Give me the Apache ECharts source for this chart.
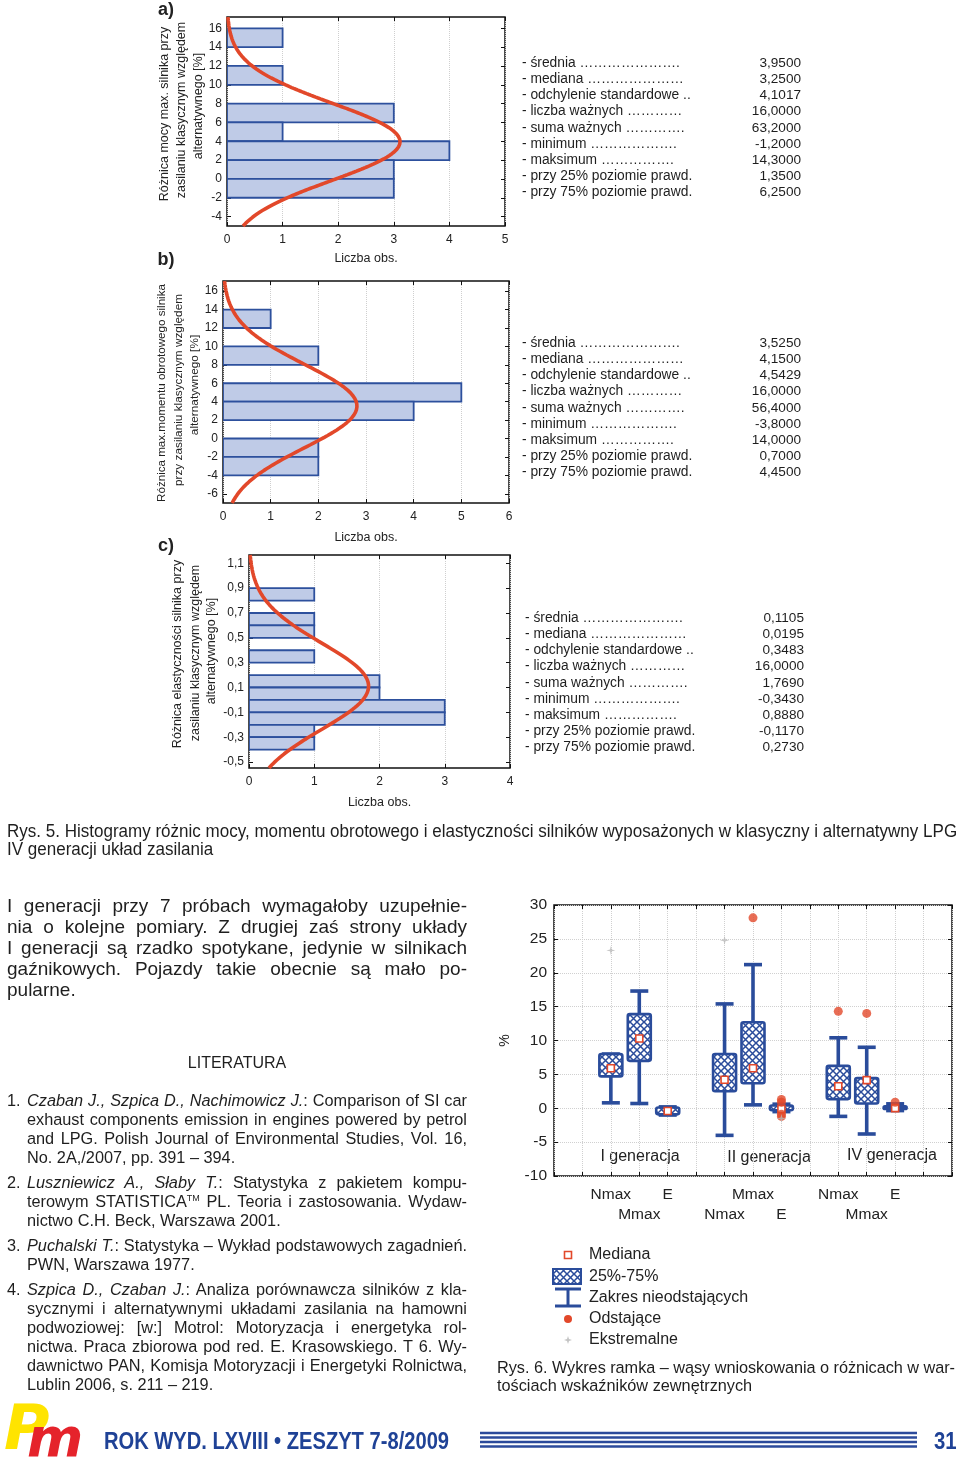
<!DOCTYPE html>
<html><head><meta charset="utf-8">
<script src="https://cdn.jsdelivr.net/npm/echarts@6/dist/echarts.min.js"></script>
<style>
html,body{margin:0;padding:0;background:#fff;}
#page{position:relative;width:960px;height:1461px;overflow:hidden;font-family:"Liberation Sans",Arial,sans-serif;color:#1e1e1e;}
#chart{position:absolute;left:0;top:0;width:960px;height:1461px;}
.t{position:absolute;white-space:nowrap;}
.j{white-space:normal;text-align:justify;text-align-last:justify;}
</style></head><body><div id="page"><div id="chart"></div></div>
<script>
// ---------------- DATA ----------------
const histA_low = [14, 10, 6, 4, 2, 0, -2];
const histA_count = [1, 1, 3, 1, 4, 3, 3];
const histB_low = [12, 8, 4, 2, -2, -4];
const histB_count = [1, 2, 5, 4, 2, 2];
const histC_low = [0.8, 0.6, 0.5, 0.3, 0.1, 0.0, -0.1, -0.2, -0.3, -0.4];
const histC_count = [1, 1, 1, 1, 2, 2, 3, 3, 1, 1];
const binWidth = [2, 2, 0.1];
const fitMean = [3.95, 3.525, 0.1105];
const fitSd = [4.1017, 4.5429, 0.3483];
const fitN = [16, 16, 16];
const yTicksA = [-4, -2, 0, 2, 4, 6, 8, 10, 12, 14, 16];
const yTicksB = [-6, -4, -2, 0, 2, 4, 6, 8, 10, 12, 14, 16];
const yTicksC = [-0.5, -0.3, -0.1, 0.1, 0.3, 0.5, 0.7, 0.9, 1.1];

const statLabels = ['- średnia ', '- mediana ', '- odchylenie standardowe ..', '- liczba ważnych ', '- suma ważnych ', '- minimum ', '- maksimum ', '- przy 25% poziomie prawd.', '- przy 75% poziomie prawd.'];
const statDotEnd = [160, 163, 0, 161, 163, 155, 155, 0, 0]; // leader end, px from label start
const statsA = ['3,9500', '3,2500', '4,1017', '16,0000', '63,2000', '-1,2000', '14,3000', '1,3500', '6,2500'];
const statsB = ['3,5250', '4,1500', '4,5429', '16,0000', '56,4000', '-3,8000', '14,0000', '0,7000', '4,4500'];
const statsC = ['0,1105', '0,0195', '0,3483', '16,0000', '1,7690', '-0,3430', '0,8880', '-0,1170', '0,2730'];

const boxPos = [2, 3, 4, 6, 7, 8, 10, 11, 12];
const boxNames = ['Nmax', 'Mmax', 'E', 'Nmax', 'Mmax', 'E', 'Nmax', 'Mmax', 'E'];
const boxLow = [0.8, 0.7, -1.0, -4.0, 0.5, -0.5, -1.2, -3.8, -0.343];
const boxQ1 = [4.7, 7.0, -0.9, 2.5, 3.7, -0.3, 1.35, 0.7, -0.117];
const boxMed = [5.9, 10.3, -0.4, 4.2, 5.9, -0.1, 3.25, 4.15, 0.0195];
const boxQ3 = [8.0, 13.9, 0.1, 8.0, 12.7, 0.4, 6.25, 4.45, 0.273];
const boxHigh = [8.0, 17.3, 0.2, 15.4, 21.2, 0.6, 10.4, 9.0, 0.65];
const outliers = [[7, 28.1], [8, 1.3], [8, 0.9], [8, -0.9], [8, -1.2], [10, 14.3], [11, 14.0], [12, 0.888]];
const extremes = [[2, 23.3], [6, 24.8], [8, -1.5]];
const genLabels = ['I generacja', 'II generacja', 'IV generacja'];
const legendLabels = ['Mediana', '25%-75%', 'Zakres nieodstających', 'Odstające', 'Ekstremalne'];

// ---------------- HELPERS ----------------
const FONT = '"Liberation Sans", Arial, sans-serif';
const BLUE = '#2a4c9b';
const RED = '#e2482a';
const fmtComma = v => String(Math.round(v * 10) / 10).replace('.', ',');

function makeHatch() {
  const s = 7;
  const c = document.createElement('canvas');
  c.width = s; c.height = s;
  const g = c.getContext('2d');
  g.fillStyle = '#ffffff'; g.fillRect(0, 0, s, s);
  g.strokeStyle = BLUE; g.lineWidth = 1.5;
  g.beginPath();
  g.moveTo(-1, -1); g.lineTo(s + 1, s + 1);
  g.moveTo(s + 1, -1); g.lineTo(-1, s + 1);
  g.stroke();
  return c;
}
const hatch = { image: makeHatch(), repeat: 'repeat' };

function fitCurve(k, ymin, ymax) {
  const pts = [];
  const steps = 240;
  for (let i = 0; i <= steps; i++) {
    const y = ymin + (ymax - ymin) * i / steps;
    const z = (y - fitMean[k]) / fitSd[k];
    const x = fitN[k] * binWidth[k] / (fitSd[k] * Math.sqrt(2 * Math.PI)) * Math.exp(-0.5 * z * z);
    pts.push([x, y]);
  }
  return pts;
}

function histRender(params, api) {
  const lo = api.value(0), hi = api.value(1), cnt = api.value(2);
  const p0 = api.coord([0, hi]);
  const p1 = api.coord([cnt, lo]);
  return {
    type: 'rect',
    shape: { x: p0[0], y: p0[1], width: p1[0] - p0[0], height: p1[1] - p0[1] },
    style: { fill: '#bfcbe7', stroke: '#2d509d', lineWidth: 1.8 }
  };
}

const grids = [
  { left: 227, top: 17, width: 278, height: 209 },
  { left: 223, top: 281, width: 286, height: 222 },
  { left: 249, top: 555, width: 261, height: 213 },
  { left: 554, top: 905, width: 398, height: 271 }
].map(g => Object.assign({ show: true, borderColor: '#111', borderWidth: 1.5, backgroundColor: 'transparent', containLabel: false, outerBoundsMode: 'none' }, g));

const xAxes = [], yAxes = [];
const histDefs = [
  { xmax: 5, ymin: -5, ymax: 17.2, ticks: yTicksA, fmt: v => String(v), nameGap: 26 },
  { xmax: 6, ymin: -7, ymax: 17.1, ticks: yTicksB, fmt: v => String(v), nameGap: 28 },
  { xmax: 4, ymin: -0.548, ymax: 1.167, ticks: yTicksC, fmt: fmtComma, nameGap: 28 }
];
const tickStyle = { show: true, inside: true, length: 4, lineStyle: { color: '#111', width: 1 } };
const noLine = { show: false, onZero: false };
histDefs.forEach((h, gi) => {
  xAxes.push({
    gridIndex: gi, type: 'value', min: 0, max: h.xmax, interval: 1, position: 'bottom',
    axisLine: noLine, axisTick: tickStyle,
    axisLabel: { fontSize: 12, color: '#222', margin: 8, fontFamily: FONT, showMinLabel: true, showMaxLabel: true },
    splitLine: { show: true, lineStyle: { color: '#cfcfcf', type: 'dotted', width: 1 } },
    name: 'Liczba obs.', nameLocation: 'middle', nameGap: h.nameGap,
    nameTextStyle: { fontSize: 12.5, color: '#222', fontFamily: FONT }
  });
  xAxes.push({
    gridIndex: gi, type: 'value', min: 0, max: h.xmax, interval: 1, position: 'top',
    axisLine: noLine, axisTick: tickStyle, axisLabel: { show: false }, splitLine: { show: false }
  });
  yAxes.push({
    gridIndex: gi, type: 'value', min: h.ymin, max: h.ymax, position: 'left',
    axisLine: noLine,
    axisTick: Object.assign({ customValues: h.ticks }, tickStyle),
    axisLabel: { customValues: h.ticks, formatter: h.fmt, fontSize: 12, color: '#222', margin: 5, fontFamily: FONT, showMinLabel: true, showMaxLabel: true },
    splitLine: { show: false }
  });
  yAxes.push({
    gridIndex: gi, type: 'value', min: h.ymin, max: h.ymax, position: 'right',
    axisLine: noLine,
    axisTick: Object.assign({ customValues: h.ticks }, tickStyle),
    axisLabel: { show: false }, splitLine: { show: false }
  });
});
// box plot axes (grid 3): xAxis 6 (row 1 labels), 7 (top ticks), 8 (row 2 labels)
const row1 = boxPos.filter((p, i) => i % 2 === 0);
const row2 = boxPos.filter((p, i) => i % 2 === 1);
const boxLabelFmt = v => { const i = boxPos.indexOf(v); return i < 0 ? '' : boxNames[i]; };
xAxes.push({
  gridIndex: 3, type: 'value', min: 0, max: 14, interval: 1, position: 'bottom',
  axisLine: noLine, axisTick: tickStyle,
  axisLabel: {
    customValues: row1, margin: 11, fontSize: 15.5, color: '#222', fontFamily: FONT,
    showMinLabel: true, showMaxLabel: true, formatter: boxLabelFmt
  },
  splitLine: { show: true, lineStyle: { color: '#d0d0d0', type: 'dotted', width: 1 } }
});
xAxes.push({
  gridIndex: 3, type: 'value', min: 0, max: 14, interval: 1, position: 'top',
  axisLine: noLine, axisTick: tickStyle, axisLabel: { show: false }, splitLine: { show: false }
});
xAxes.push({
  gridIndex: 3, type: 'value', min: 0, max: 14, interval: 1, position: 'bottom', offset: 20,
  axisLine: noLine, axisTick: { show: false },
  axisLabel: {
    customValues: row2, margin: 11, fontSize: 15.5, color: '#222', fontFamily: FONT,
    showMinLabel: true, showMaxLabel: true, formatter: boxLabelFmt
  },
  splitLine: { show: false }
});
yAxes.push({
  gridIndex: 3, type: 'value', min: -10, max: 30, interval: 5, position: 'left',
  axisLine: noLine, axisTick: tickStyle,
  axisLabel: { fontSize: 15.5, color: '#222', margin: 7, fontFamily: FONT, showMinLabel: true, showMaxLabel: true },
  splitLine: { show: true, lineStyle: { color: '#d0d0d0', type: 'dotted', width: 1 } },
  name: '%', nameLocation: 'middle', nameRotate: 90, nameGap: 42,
  nameTextStyle: { fontSize: 14, color: '#222', fontFamily: FONT }
});
yAxes.push({
  gridIndex: 3, type: 'value', min: -10, max: 30, interval: 5, position: 'right',
  axisLine: noLine, axisTick: tickStyle, axisLabel: { show: false }, splitLine: { show: false }
});

const series = [];
[[histA_low, histA_count], [histB_low, histB_count], [histC_low, histC_count]].forEach((h, k) => {
  const bw = binWidth[k];
  series.push({
    type: 'custom', xAxisIndex: 2 * k, yAxisIndex: 2 * k, clip: true,
    renderItem: histRender,
    encode: { x: 2, y: [0, 1] },
    data: h[0].map((lo, i) => [lo, +(lo + bw).toFixed(4), h[1][i]])
  });
  series.push({
    type: 'line', xAxisIndex: 2 * k, yAxisIndex: 2 * k, clip: true, showSymbol: false, silent: true,
    lineStyle: { color: RED, width: 3.6 },
    data: fitCurve(k, histDefs[k].ymin, histDefs[k].ymax)
  });
});

function boxRender(params, api) {
  const x = api.value(0);
  const pL = api.coord([x, api.value(1)]);
  const pQ1 = api.coord([x, api.value(2)]);
  const pM = api.coord([x, api.value(3)]);
  const pQ3 = api.coord([x, api.value(4)]);
  const pH = api.coord([x, api.value(5)]);
  const cx = pL[0], bw = 23, cw = 18;
  const ws = { stroke: BLUE, lineWidth: 3.6 };
  return {
    type: 'group', children: [
      { type: 'line', shape: { x1: cx, y1: pH[1], x2: cx, y2: pL[1] }, style: ws },
      { type: 'line', shape: { x1: cx - cw / 2, y1: pH[1], x2: cx + cw / 2, y2: pH[1] }, style: ws },
      { type: 'line', shape: { x1: cx - cw / 2, y1: pL[1], x2: cx + cw / 2, y2: pL[1] }, style: ws },
      { type: 'rect', shape: { x: cx - bw / 2, y: pQ3[1], width: bw, height: pQ1[1] - pQ3[1], r: 2 }, style: { fill: hatch, stroke: BLUE, lineWidth: 2.6 } },
      { type: 'rect', shape: { x: cx - 3.5, y: pM[1] - 3.5, width: 7, height: 7 }, style: { fill: '#fff', stroke: RED, lineWidth: 1.6 } }
    ]
  };
}
series.push({
  type: 'custom', xAxisIndex: 6, yAxisIndex: 6, renderItem: boxRender,
  encode: { x: 0, y: [1, 2, 3, 4, 5] },
  data: boxPos.map((p, i) => [p, boxLow[i], boxQ1[i], boxMed[i], boxQ3[i], boxHigh[i]])
});
series.push({
  type: 'scatter', xAxisIndex: 6, yAxisIndex: 6, symbol: 'circle', symbolSize: 9,
  itemStyle: { color: RED }, data: outliers
});
const STAR = 'path://M0,-10 L2,-2 L10,0 L2,2 L0,10 L-2,2 L-10,0 L-2,-2 Z';
series.push({
  type: 'scatter', xAxisIndex: 6, yAxisIndex: 6, symbol: STAR, symbolSize: 9,
  itemStyle: { color: '#b9b9b9' }, data: extremes
});

// graphic text (chart labels, legend)
const gtext = (x, y, text, extra) => ({ type: 'text', x, y, style: Object.assign({ text, font: '12.5px ' + FONT, fill: '#222', textAlign: 'center', textVerticalAlign: 'middle' }, extra || {}) });
const rot = (x, y, text, size) => Object.assign(gtext(x, y, text, size ? { font: size + 'px ' + FONT } : null), { rotation: Math.PI / 2 });
const graphic = [
  gtext(166, 10, 'a)', { font: 'bold 18px ' + FONT }),
  gtext(166, 260, 'b)', { font: 'bold 18px ' + FONT }),
  gtext(166, 546, 'c)', { font: 'bold 18px ' + FONT }),
  rot(165, 114, 'Różnica mocy max. silnika przy'),
  rot(182, 110, 'zasilaniu klasycznym względem'),
  rot(199, 106, 'alternatywnego [%]'),
  rot(162, 393, 'Różnica max.momentu obrotowego silnika', 11.6),
  rot(179, 390, 'przy zasilaniu klasycznym względem', 11.8),
  rot(195, 385, 'alternatywnego [%]', 11.8),
  rot(178, 654, 'Różnica elastyczności silnika przy'),
  rot(196, 653, 'zasilaniu klasycznym względem'),
  rot(212, 651, 'alternatywnego [%]'),
  gtext(640, 1157, genLabels[0], { font: '16px ' + FONT }),
  gtext(769, 1158, genLabels[1], { font: '16px ' + FONT }),
  gtext(892, 1156, genLabels[2], { font: '16px ' + FONT }),
  // legend
  { type: 'rect', shape: { x: 564.5, y: 1251.5, width: 7, height: 7 }, style: { fill: '#fff', stroke: RED, lineWidth: 1.6 } },
  { type: 'rect', shape: { x: 553, y: 1269, width: 28, height: 15 }, style: { fill: hatch, stroke: BLUE, lineWidth: 2 } },
  { type: 'line', shape: { x1: 555, y1: 1289, x2: 581, y2: 1289 }, style: { stroke: BLUE, lineWidth: 3 } },
  { type: 'line', shape: { x1: 568, y1: 1289, x2: 568, y2: 1306 }, style: { stroke: BLUE, lineWidth: 3 } },
  { type: 'line', shape: { x1: 555, y1: 1306, x2: 581, y2: 1306 }, style: { stroke: BLUE, lineWidth: 3 } },
  { type: 'circle', shape: { cx: 568, cy: 1319, r: 4 }, style: { fill: RED } },
  { type: 'polygon', shape: { points: [[568, 1336], [569, 1339], [572, 1340], [569, 1341], [568, 1344], [567, 1341], [564, 1340], [567, 1339]] }, style: { fill: '#c4c4c4' } }
];
[1255, 1277, 1298, 1319, 1340].forEach((y, i) => graphic.push(gtext(589, y, legendLabels[i], { font: '16px ' + FONT, textAlign: 'left' })));
// footer stripes
[1433, 1437.5, 1442, 1446.5].forEach(y => graphic.push({ type: 'rect', shape: { x: 480, y: y - 1.2, width: 437, height: 2.4 }, style: { fill: '#2b4a9b' } }));

const chart = echarts.init(document.getElementById('chart'), null, { renderer: 'canvas' });
chart.setOption({
  animation: false,
  backgroundColor: '#fff',
  grid: grids, xAxis: xAxes, yAxis: yAxes, series, graphic
});

// ---------------- PAGE TEXT ----------------
const page = document.getElementById('page');
function txt(x, cy, html, opt) {
  opt = opt || {};
  const d = document.createElement('div');
  d.className = 't' + (opt.cls ? ' ' + opt.cls : '');
  const fs = opt.fs || 15, lh = opt.lh || Math.round(fs * 1.25);
  d.style.left = x + 'px'; d.style.top = (cy - lh / 2) + 'px';
  d.style.fontSize = fs + 'px'; d.style.lineHeight = lh + 'px';
  if (opt.w) d.style.width = opt.w + 'px';
  if (opt.align) d.style.textAlign = opt.align;
  if (opt.style) Object.assign(d.style, opt.style);
  d.innerHTML = html;
  page.appendChild(d);
  if (opt.cls === 'j') {
    let ls = 0;
    while (d.offsetHeight > lh + 1 && ls > -1.5) { ls -= 0.05; d.style.letterSpacing = ls + 'px'; }
  }
  return d;
}
function fitW(d, w) {
  d.style.display = 'inline-block';
  d.style.transformOrigin = '0 50%';
  const k = w / d.offsetWidth;
  d.style.transform = 'scaleX(' + k + ')';
  return k;
}
function leader(d, base, target) {
  if (!target) return;
  d.style.display = 'inline-block';
  let s = base;
  d.textContent = s + '…';
  while (d.offsetWidth <= target) { s += '…'; d.textContent = s + '…'; }
  d.textContent = s + '.';
  while (d.offsetWidth <= target) { s += '.'; d.textContent = s + '.'; }
  d.textContent = s;
}

// stats
[[statsA, 63, 522, 801], [statsB, 343, 522, 801], [statsC, 618, 525, 804]].forEach(s => {
  statLabels.forEach((lab, i) => {
    const y = s[1] + i * 16.15;
    const d = txt(s[2], y, lab, { fs: 13.8, lh: 16 });
    leader(d, lab, statDotEnd[i]);
    txt(s[3] - 80, y, s[0][i], { fs: 13.6, lh: 16, w: 80, align: 'right' });
  });
});

// caption Rys. 5 (condensed face)
const c1 = txt(7, 831, 'Rys. 5. Histogramy różnic mocy, momentu obrotowego i elastyczności silników wyposażonych w klasyczny i alternatywny LPG', { fs: 17.5, lh: 20 });
const k5 = fitW(c1, 950);
const c2 = txt(7, 849, 'IV generacji układ zasilania', { fs: 17.5, lh: 20 });
c2.style.display = 'inline-block'; c2.style.transformOrigin = '0 50%'; c2.style.transform = 'scaleX(' + k5 + ')';

// body text
const body = [
  'I generacji przy 7 próbach wymagałoby uzupełnie-',
  'nia o kolejne pomiary. Z drugiej zaś strony układy',
  'I generacji są rzadko spotykane, jedynie w silnikach',
  'gaźnikowych. Pojazdy takie obecnie są mało po-'
];
body.forEach((l, i) => txt(7, 905 + i * 21, l, { fs: 19, lh: 21, w: 460, cls: 'j' }));
txt(7, 989, 'pularne.', { fs: 19, lh: 21 });

txt(137, 1062, 'LITERATURA', { fs: 16, lh: 19, w: 200, align: 'center' });

const refs = [
  ['1.', 1100, [
    '<i>Czaban J., Szpica D., Nachimowicz J.</i>: Comparison of SI car',
    'exhaust components emission in engines powered by petrol',
    'and LPG. Polish Journal of Environmental Studies, Vol. 16,'
  ], 'No. 2A,/2007, pp. 391 – 394.'],
  ['2.', 1182, [
    '<i>Luszniewicz A., Słaby T.</i>: Statystyka z pakietem kompu-',
    'terowym STATISTICA<sup style="font-size:9px;line-height:0">TM</sup> PL. Teoria i zastosowania. Wydaw-'
  ], 'nictwo C.H. Beck, Warszawa 2001.'],
  ['3.', 1245, [
    '<i>Puchalski T.</i>: Statystyka – Wykład podstawowych zagadnień.'
  ], 'PWN, Warszawa 1977.'],
  ['4.', 1289, [
    '<i>Szpica D., Czaban J.</i>: Analiza porównawcza silników z kla-',
    'sycznymi i alternatywnymi układami zasilania na hamowni',
    'podwoziowej: [w:] Motrol: Motoryzacja i energetyka rol-',
    'nictwa. Praca zbiorowa pod red. E. Krasowskiego. T 6. Wy-',
    'dawnictwo PAN, Komisja Motoryzacji i Energetyki Rolnictwa,'
  ], 'Lublin 2006, s. 211 – 219.']
];
refs.forEach(r => {
  txt(7, r[1], r[0], { fs: 16.3, lh: 19 });
  r[2].forEach((l, i) => txt(27, r[1] + i * 19, l, { fs: 16.3, lh: 19, w: 440, cls: 'j' }));
  txt(27, r[1] + r[2].length * 19, r[3], { fs: 16.3, lh: 19 });
});

// caption Rys. 6
txt(497, 1367, 'Rys. 6. Wykres ramka – wąsy wnioskowania o różnicach w war-', { fs: 16.3, lh: 18, w: 458, cls: 'j' });
txt(497, 1385, 'tościach wskaźników zewnętrznych', { fs: 16.3, lh: 18 });

// footer
const f1 = txt(104, 1441, 'ROK WYD. LXVIII • ZESZYT 7-8/2009', { fs: 23, lh: 24, style: { fontWeight: 'bold', color: '#1f4296' } });
fitW(f1, 345);
const f2 = txt(934, 1441, '31', { fs: 23, lh: 24, style: { fontWeight: 'bold', color: '#1f4296' } });
fitW(f2, 23);
// logo
txt(4, 1428, 'P', { fs: 62, lh: 62, style: { fontWeight: 'bold', fontStyle: 'italic', color: '#ffe400', fontFamily: '"DejaVu Sans", sans-serif' } });
txt(27, 1438, 'm', { fs: 54, lh: 54, style: { fontWeight: 'bold', fontStyle: 'italic', color: '#e5232b', fontFamily: '"DejaVu Sans", sans-serif', letterSpacing: '-3px' } });
</script></body></html>
